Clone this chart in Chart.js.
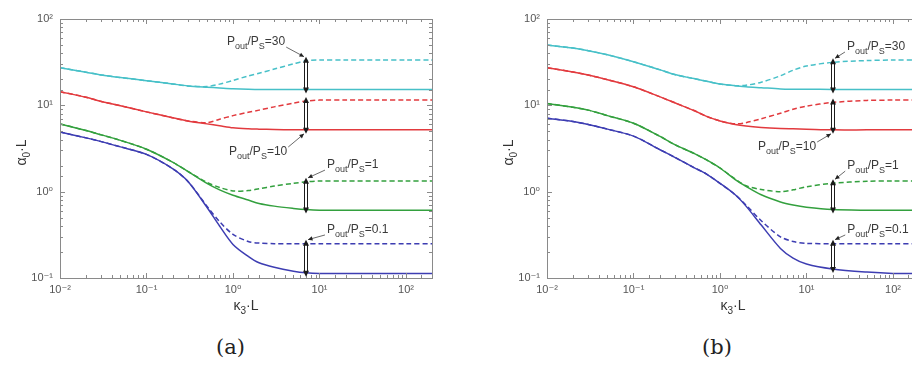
<!DOCTYPE html>
<html>
<head>
<meta charset="utf-8">
<script src="https://cdn.jsdelivr.net/npm/chart.js@4.4.7/dist/chart.umd.min.js"></script>
<style>
  html, body { margin:0; padding:0; background:#fff; width:912px; height:365px; overflow:hidden; position:relative; }
  .box { position:absolute; top:0; height:320px; }
  #wrapA { left:0; width:456px; }
  #wrapB { left:456px; width:487px; }
  .cap { position:absolute; top:335px; font-family:"DejaVu Serif", "Liberation Serif", serif; font-size:21px; color:#222; }
</style>
</head>
<body>
<div class="box" id="wrapA"><canvas id="chartA" width="456" height="320"></canvas></div>
<div class="box" id="wrapB"><canvas id="chartB" width="487" height="320"></canvas></div>
<div class="cap" style="left:216px">(a)</div>
<div class="cap" style="left:702px">(b)</div>
<script>
// kappa_3*L sample points, shared by both panels
const kL = [0.01, 0.02, 0.03, 0.05, 0.1, 0.2, 0.3, 0.5, 0.7, 1, 1.5, 2, 3, 5, 7, 10, 20, 50, 100, 200];

// panel (a): alpha_0*L, solid = one case, dashed = other case
const cyanSolidA  = [27.3, 24.2, 22.5, 21, 19.3, 17.7, 16.8, 16.2, 15.9, 15.6, 15.4, 15.3, 15.3, 15.3, 15.3, 15.3, 15.3, 15.3, 15.3, 15.3];
const cyanDashA   = [27.3, 24.2, 22.5, 21, 19.3, 17.7, 16.8, 16.5, 17.6, 19.4, 21.9, 23.5, 26.3, 30.2, 32.9, 33.5, 33.5, 33.5, 33.5, 33.5];
const redSolidA   = [14.4, 12.4, 11.1, 9.9, 8.4, 7.2, 6.6, 6.1, 5.8, 5.5, 5.35, 5.3, 5.25, 5.2, 5.2, 5.2, 5.2, 5.2, 5.2, 5.2];
const redDashA    = [14.4, 12.4, 11.1, 9.9, 8.4, 7.2, 6.6, 6.3, 6.9, 7.6, 8.3, 8.8, 9.6, 10.6, 11.2, 11.5, 11.5, 11.5, 11.5, 11.5];
const greenSolidA = [6.1, 5.1, 4.55, 3.93, 3.1, 2.2, 1.72, 1.25, 1.05, 0.91, 0.8, 0.73, 0.68, 0.64, 0.62, 0.61, 0.61, 0.61, 0.61, 0.61];
const greenDashA  = [6.1, 5.1, 4.55, 3.93, 3.1, 2.2, 1.72, 1.28, 1.12, 1.02, 1.03, 1.08, 1.16, 1.25, 1.3, 1.33, 1.33, 1.33, 1.33, 1.33];
const blueSolidA  = [4.9, 4.2, 3.8, 3.3, 2.7, 1.85, 1.32, 0.66, 0.4, 0.245, 0.178, 0.15, 0.133, 0.12, 0.115, 0.113, 0.113, 0.113, 0.113, 0.113];
const blueDashA   = [4.9, 4.2, 3.8, 3.3, 2.7, 1.85, 1.32, 0.68, 0.45, 0.32, 0.265, 0.254, 0.25, 0.25, 0.25, 0.25, 0.25, 0.25, 0.25, 0.25];

// panel (b)
const cyanSolidB  = [50, 46, 43, 38.5, 32, 25.9, 22.7, 20.4, 19.0, 17.7, 16.9, 16.4, 16.0, 15.5, 15.4, 15.4, 15.3, 15.3, 15.3, 15.3];
const cyanDashB   = [50, 46, 43, 38.5, 32, 25.9, 22.7, 20.4, 19.0, 17.7, 16.9, 17.1, 18.5, 22, 25.5, 28.5, 31.5, 33, 33.5, 33.5];
const redSolidB   = [27.3, 24.3, 22.4, 19.8, 16.4, 12.6, 10.7, 8.7, 7.45, 6.6, 6.0, 5.75, 5.55, 5.4, 5.35, 5.3, 5.2, 5.2, 5.2, 5.2];
const redDashB    = [27.3, 24.3, 22.4, 19.8, 16.4, 12.6, 10.7, 8.7, 7.45, 6.6, 6.1, 6.3, 7.0, 8.1, 9.0, 9.8, 10.8, 11.4, 11.5, 11.5];
const greenSolidB = [10.5, 9.5, 8.8, 7.6, 6.2, 4.4, 3.5, 2.78, 2.33, 1.88, 1.38, 1.15, 0.92, 0.76, 0.7, 0.66, 0.62, 0.61, 0.61, 0.61];
const greenDashB  = [10.5, 9.5, 8.8, 7.6, 6.2, 4.4, 3.5, 2.78, 2.33, 1.88, 1.40, 1.17, 1.06, 1.0, 1.05, 1.14, 1.25, 1.32, 1.33, 1.33];
const blueSolidB  = [7.1, 6.5, 6.0, 5.3, 4.4, 3.08, 2.5, 1.9, 1.6, 1.25, 0.92, 0.68, 0.41, 0.22, 0.17, 0.145, 0.127, 0.117, 0.113, 0.113];
const blueDashB   = [7.1, 6.5, 6.0, 5.3, 4.4, 3.08, 2.5, 1.9, 1.6, 1.25, 0.92, 0.70, 0.46, 0.30, 0.265, 0.252, 0.25, 0.25, 0.25, 0.25];

// annotations: P_out/P_S ratios, arrow position and label anchors (data coords, left edge / middle of text)
const ratios = ['30', '10', '1', '0.1'];
const arrowXA = 7;
const arrowXB = 20;
const labelAtA = [[0.853, 54], [0.90, 2.88], [12.2, 2.03], [12.2, 0.36]];
const labelAtB = [[29.4, 47.4], [2.75, 3.29], [29.6, 1.98], [29.6, 0.36]];

const COLORS = { cyan: '#47c0c8', red: '#e23a3e', green: '#33a03e', blue: '#3d3db2' };
const FONT = '"Liberation Sans", Arial, "DejaVu Sans", sans-serif';

const pts = arr => kL.map((x, i) => ({ x, y: arr[i] }));
const isPow10 = v => Math.abs(Math.log10(v) - Math.round(Math.log10(v))) < 1e-9;
const SUP = { '-': '\u207B', '0': '\u2070', '1': '\u00B9', '2': '\u00B2' };
const powLabel = v => isPow10(v) ? '10' + String(Math.round(Math.log10(v))).split('').map(c => SUP[c]).join('') : '';

function richWidth(ctx, parts, size) {
    let w = 0;
    for (const p of parts) {
        ctx.font = (p.sub ? Math.round(size * 0.72) : size) + 'px ' + FONT;
        w += ctx.measureText(p.t).width;
    }
    return w;
}
function drawRich(ctx, parts, x, y, size) {
    ctx.textBaseline = 'middle';
    ctx.textAlign = 'left';
    for (const p of parts) {
        ctx.font = (p.sub ? Math.round(size * 0.72) : size) + 'px ' + FONT;
        ctx.fillText(p.t, x, p.sub ? y + size * 0.38 : y);
        x += ctx.measureText(p.t).width;
    }
}
function doubleArrow(ctx, px, y0, y1) {
    ctx.strokeStyle = '#1c1c1c';
    ctx.fillStyle = '#1c1c1c';
    ctx.lineWidth = 1;
    ctx.beginPath();
    ctx.moveTo(px - 1.5, y0 + 4); ctx.lineTo(px - 1.5, y1 - 4);
    ctx.moveTo(px + 1.5, y0 + 4); ctx.lineTo(px + 1.5, y1 - 4);
    ctx.stroke();
    ctx.beginPath(); ctx.moveTo(px, y0); ctx.lineTo(px - 3, y0 + 6); ctx.lineTo(px + 3, y0 + 6); ctx.closePath(); ctx.fill();
    ctx.beginPath(); ctx.moveTo(px, y1); ctx.lineTo(px - 3, y1 - 6); ctx.lineTo(px + 3, y1 - 6); ctx.closePath(); ctx.fill();
}
function leader(ctx, x0, y0, x1, y1) {
    ctx.strokeStyle = '#444';
    ctx.fillStyle = '#222';
    ctx.lineWidth = 0.8;
    ctx.beginPath(); ctx.moveTo(x0, y0); ctx.lineTo(x1, y1); ctx.stroke();
    const a = Math.atan2(y1 - y0, x1 - x0);
    ctx.beginPath();
    ctx.moveTo(x1, y1);
    ctx.lineTo(x1 - 5 * Math.cos(a - 0.45), y1 - 5 * Math.sin(a - 0.45));
    ctx.lineTo(x1 - 5 * Math.cos(a + 0.45), y1 - 5 * Math.sin(a + 0.45));
    ctx.closePath(); ctx.fill();
}

// MATLAB-like frame, inward ticks, arrows, labels and axis titles
const decor = {
    id: 'decor',
    afterDatasetsDraw(chart, args, opts) {
        const { ctx, chartArea: a, scales: { x, y } } = chart;
        ctx.save();
        ctx.strokeStyle = '#8a8a8a';
        ctx.lineWidth = 1;
        ctx.strokeRect(a.left + 0.5, a.top + 0.5, a.right - a.left, a.bottom - a.top);
        ctx.beginPath();
        x.ticks.forEach(t => {
            const p = Math.round(x.getPixelForValue(t.value)) + 0.5;
            const len = isPow10(t.value) ? 5 : 3;
            ctx.moveTo(p, a.bottom); ctx.lineTo(p, a.bottom - len);
            ctx.moveTo(p, a.top); ctx.lineTo(p, a.top + len);
        });
        y.ticks.forEach(t => {
            const p = Math.round(y.getPixelForValue(t.value)) + 0.5;
            const len = isPow10(t.value) ? 5 : 3;
            ctx.moveTo(a.left, p); ctx.lineTo(a.left + len, p);
            ctx.moveTo(a.right, p); ctx.lineTo(a.right - len, p);
        });
        ctx.stroke();

        const i = kL.indexOf(opts.arrowX);
        const px = Math.round(x.getPixelForValue(opts.arrowX));
        opts.pairs.forEach((pair, k) => {
            const yTop = y.getPixelForValue(pair[0][i]) - 4;
            const yBot = y.getPixelForValue(pair[1][i]) + 4;
            doubleArrow(ctx, px, yTop, yBot);
            const tx = x.getPixelForValue(opts.labelAt[k][0]);
            const ty = y.getPixelForValue(opts.labelAt[k][1]);
            const parts = [{ t: 'P' }, { t: 'out', sub: 1 }, { t: '/P' }, { t: 'S', sub: 1 }, { t: '=' + ratios[k] }];
            ctx.fillStyle = '#3a3a3a';
            drawRich(ctx, parts, tx, ty, 12);
            const w = richWidth(ctx, parts, 12);
            const tipY = Math.abs(ty - yTop) < Math.abs(ty - yBot) ? yTop : yBot;
            const fromLeft = tx < px;
            leader(ctx, fromLeft ? tx + w + 1 : tx - 2, ty + (tipY > ty ? 5 : -5), fromLeft ? px - 2 : px + 2, tipY);
        });

        // axis titles
        ctx.fillStyle = '#333';
        const yt = [{ t: '\u03B1' }, { t: '0', sub: 1 }, { t: '\u00B7L' }];
        ctx.save();
        ctx.translate(a.left - 38, (a.top + a.bottom) / 2 + 4);
        ctx.rotate(-Math.PI / 2);
        drawRich(ctx, yt, -richWidth(ctx, yt, 14) / 2, 0, 14);
        ctx.restore();
        const xt = [{ t: '\u03BA' }, { t: '3', sub: 1 }, { t: '\u00B7L' }];
        drawRich(ctx, xt, (a.left + a.right) / 2 - richWidth(ctx, xt, 14) / 2, a.bottom + 28, 14);
        ctx.restore();
    }
};

function makeChart(id, padLeft, sets, arrowX, labelAt) {
    const [cs, cd, rs, rd, gs, gd, bs, bd] = sets;
    const line = (data, color, dashed) => ({
        data: pts(data),
        borderColor: color,
        borderWidth: 1.5,
        borderDash: dashed ? [5, 3] : [],
        pointRadius: 0,
        tension: 0.3,
        fill: false
    });
    return new Chart(document.getElementById(id), {
        type: 'line',
        data: {
            datasets: [
                line(cs, COLORS.cyan, false), line(cd, COLORS.cyan, true),
                line(rs, COLORS.red, false), line(rd, COLORS.red, true),
                line(gs, COLORS.green, false), line(gd, COLORS.green, true),
                line(bs, COLORS.blue, false), line(bd, COLORS.blue, true)
            ]
        },
        options: {
            responsive: false,
            animation: false,
            devicePixelRatio: 1,
            layout: { padding: { left: padLeft, right: 24, top: 19, bottom: 0 } },
            plugins: {
                legend: { display: false },
                tooltip: { enabled: false },
                decor: { arrowX, labelAt, pairs: [[cd, cs], [rd, rs], [gd, gs], [bd, bs]] }
            },
            scales: {
                x: {
                    type: 'logarithmic', min: 0.01, max: 200,
                    grid: { display: false, drawTicks: false },
                    border: { display: false },
                    ticks: { autoSkip: false, maxRotation: 0, padding: 5, color: '#555', font: { family: FONT, size: 11 }, callback: v => powLabel(v) },
                    afterFit: s => { s.height = 42; }
                },
                y: {
                    type: 'logarithmic', min: 0.1, max: 100,
                    grid: { display: false, drawTicks: false },
                    border: { display: false },
                    ticks: { autoSkip: false, padding: 7, color: '#555', font: { family: FONT, size: 11 }, callback: v => powLabel(v) },
                    afterFit: s => { s.width = 60; }
                }
            }
        },
        plugins: [decor]
    });
}

makeChart('chartA', 0, [cyanSolidA, cyanDashA, redSolidA, redDashA, greenSolidA, greenDashA, blueSolidA, blueDashA], arrowXA, labelAtA);
makeChart('chartB', 31, [cyanSolidB, cyanDashB, redSolidB, redDashB, greenSolidB, greenDashB, blueSolidB, blueDashB], arrowXB, labelAtB);
</script>
</body>
</html>
